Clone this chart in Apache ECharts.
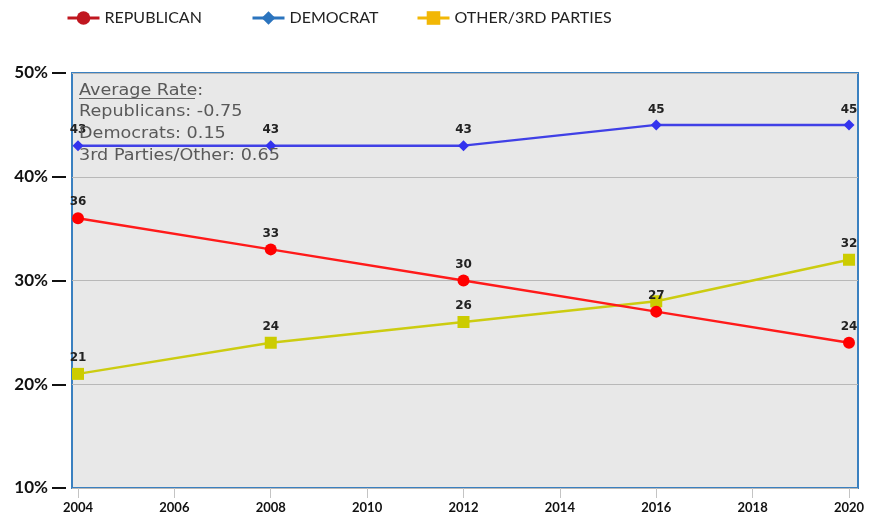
<!DOCTYPE html>
<html><head><meta charset="utf-8">
<script src="https://cdn.jsdelivr.net/npm/echarts@6/dist/echarts.min.js"></script>
<style>html,body{margin:0;padding:0;background:#fff}#c{width:884px;height:516px}</style>
</head><body><div id="c"></div>
<script>
const years = [2004, 2008, 2012, 2016, 2020];
const republican = [36, 33, 30, 27, 24];
const democrat = [43, 43, 43, 45, 45];
const other = [21, 24, 26, 28, 32];
const otherLabelShown = [true, true, true, false, true];
const xTicks = [2004, 2006, 2008, 2010, 2012, 2014, 2016, 2018, 2020];
const seriesNames = ['REPUBLICAN', 'DEMOCRAT', 'OTHER/3RD PARTIES'];
const noteLines = ['Average Rate:', 'Republicans: -0.75', 'Democrats: 0.15', '3rd Parties/Other: 0.65'];

const chart = echarts.init(document.getElementById('c'), null, {renderer: 'canvas'});
const labelStyle = {show: true, position: 'top', distance: 4, fontFamily: 'DejaVu Sans', fontWeight: 'bold', fontSize: 12, color: '#222'};
const pairs = arr => years.map((y, i) => [y, arr[i]]);
const legendText = {fontFamily: 'Lato', fontSize: 16, color: '#222'};
function mkLegend(name, left, color) {
  return {left: left, top: 5, itemWidth: 32, itemHeight: 17, textStyle: legendText,
    data: [{name: name, itemStyle: {color: color}, lineStyle: {color: color, width: 3}}]};
}
const noteFont = '16px "DejaVu Sans"';
function note(i, top) {
  return {type: 'text', x: 79, y: top, scaleX: 1.1, z: 10, style: {text: noteLines[i], font: noteFont, fill: '#595959'}};
}
chart.setOption({
  animation: false,
  legend: [mkLegend(seriesNames[0], 61, '#c0161f'), mkLegend(seriesNames[1], 246, '#2b74be'), mkLegend(seriesNames[2], 411, '#f2b705')],
  grid: {left: 72, right: 26, top: 73, bottom: 28, show: true, backgroundColor: '#e8e8e8', borderColor: '#3a80c0', borderWidth: 2},
  xAxis: {type: 'value', min: 2003.8755, max: 2020.187,
    axisLine: {show: false}, splitLine: {show: false},
    axisTick: {show: true, length: 10, lineStyle: {color: '#c4c4c4', width: 1}, customValues: xTicks},
    axisLabel: {customValues: xTicks, margin: 13, fontFamily: 'Lato', fontWeight: 'bold', fontSize: 13, color: '#111', formatter: v => String(v)}},
  yAxis: {type: 'value', min: 10, max: 50, interval: 10, offset: 6,
    axisLine: {show: false},
    axisTick: {show: true, length: 14, lineStyle: {color: '#111', width: 2}},
    axisLabel: {margin: 18, fontFamily: 'Lato', fontWeight: 'bold', fontSize: 17, color: '#111', formatter: '{value}%'},
    splitLine: {show: true, lineStyle: {color: '#b8b8b8', width: 1}}},
  series: [
    {name: seriesNames[0], type: 'line', data: pairs(republican), symbol: 'circle', symbolSize: 12,
      itemStyle: {color: '#ff0000'}, lineStyle: {color: '#ff1a1a', width: 2.5}, label: labelStyle, z: 3},
    {name: seriesNames[1], type: 'line', data: pairs(democrat), symbol: 'diamond', symbolSize: 11,
      itemStyle: {color: '#3333ee'}, lineStyle: {color: '#4040e6', width: 2.5}, label: labelStyle, z: 2},
    {name: seriesNames[2], type: 'line', symbol: 'rect', symbolSize: 12,
      data: years.map((y, i) => ({value: [y, other[i]], label: {show: otherLabelShown[i]}})),
      itemStyle: {color: '#cccc00'}, lineStyle: {color: '#cccc11', width: 2.5}, label: labelStyle, z: 1}
  ],
  graphic: [
    note(0, 83),
    {type: 'rect', x: 79, y: 98, z: 10, shape: {width: 116, height: 1}, style: {fill: '#666'}},
    note(1, 104),
    note(2, 126),
    note(3, 148)
  ]
});
</script></body></html>
